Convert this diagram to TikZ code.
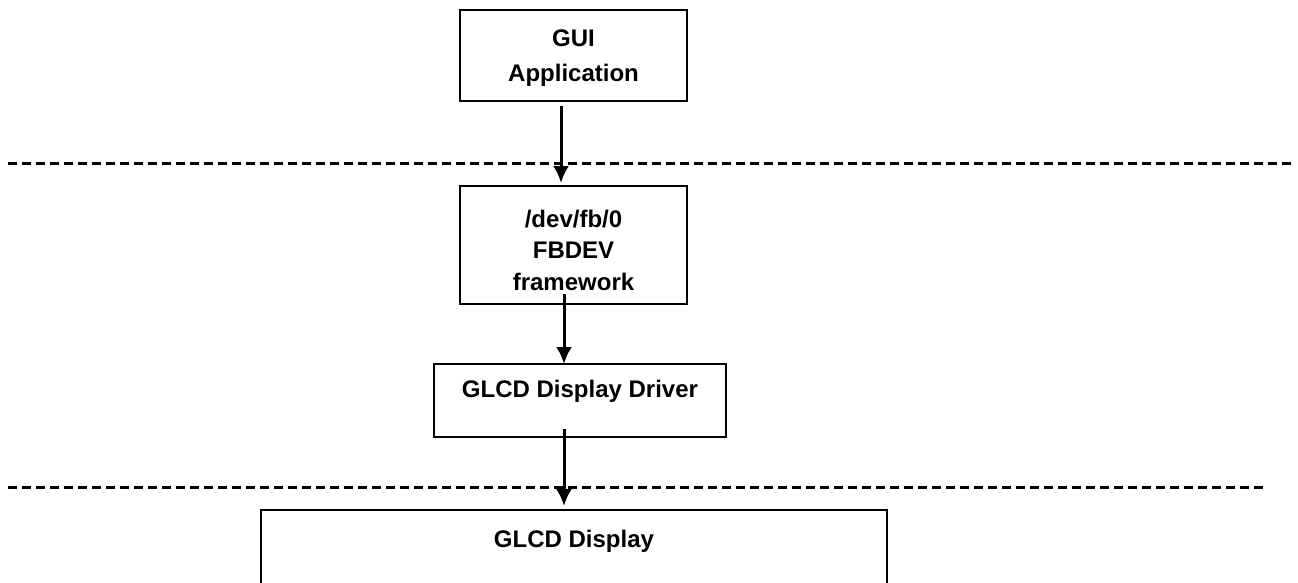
\documentclass[tikz,border=0pt]{standalone}
\usepackage{fontspec}
\setmainfont{Liberation Sans}
\usetikzlibrary{arrows.meta}

\begin{document}
\begin{tikzpicture}[x=1pt,y=-1pt,
  box/.style={draw=black, line width=2pt, fill=white, align=center, inner sep=0pt, font=\bfseries\fontsize{24}{35}\selectfont},
  flow/.style={black, line width=3pt, -{Latex[length=17pt,width=16pt]}},
  layer/.style={black, line width=3pt, dash pattern=on 9pt off 5pt}]
\useasboundingbox (0,0) rectangle (1298,582);
\clip (0,0) rectangle (1298,582);

\draw [layer] (8,163) -- (1293,163);
\draw [layer] (8,487) -- (1263,487);

\node [box, minimum width=227, minimum height=91, text depth=0pt] (gui) at (573.5,55.5) {GUI\\Application};
\node [box, minimum width=227, minimum height=118, text height=90pt, text depth=0pt, font=\bfseries\fontsize{24}{31.5}\selectfont] (fb) at (573.5,245) {/dev/fb/0\\FBDEV\\framework};
\node [box, minimum width=292, minimum height=73, text height=17pt, text depth=24pt] (drv) at (580,400.5) {GLCD Display Driver};
\node [box, minimum width=626, minimum height=100, text height=17pt, text depth=43pt] (lcd) at (574,560) {GLCD Display};

\draw [flow] ([shift={(-12.5,4)}]gui.south) -- ([shift={(-12.5,-2)}]fb.north);
\draw [flow] ([shift={(-9.5,-11)}]fb.south) -- ([shift={(-16,1)}]drv.north);
\draw [flow] ([shift={(-16,-9)}]drv.south) -- ([shift={(-10,-3)}]lcd.north);

\end{tikzpicture}
\end{document}
